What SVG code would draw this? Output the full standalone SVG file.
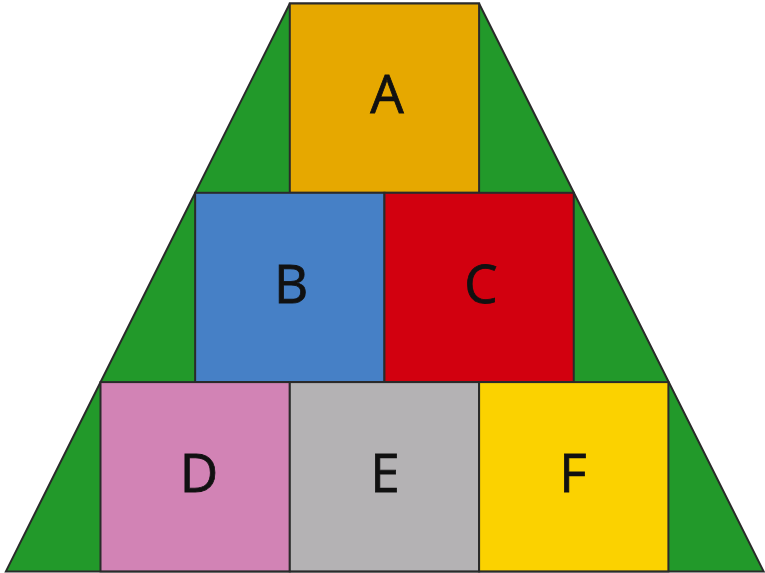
<svg xmlns="http://www.w3.org/2000/svg" width="765" height="573" viewBox="0 0 765 573">
<style>
.sq{stroke:#2a2a2a;stroke-width:2}
.lbl{font-family:"Open Sans","Liberation Sans",Arial,sans-serif;font-size:53px;fill:#111;text-anchor:middle;stroke:#111;stroke-width:0.8}
</style>
<rect width="765" height="573" fill="#ffffff"/>
<g id="background">
<polygon points="289.8,3.5 479.1,3.5 763.6,571.4 5.9,571.4" fill="#22992a" stroke="#2a2a2a" stroke-width="2" stroke-linejoin="miter"/>
</g>
<g id="nodeA"><rect class="sq" x="289.8" y="3.5" width="189.3" height="189.3" fill="#e6a800"/><text class="lbl" x="387" y="113">A</text></g>
<g id="nodeB"><rect class="sq" x="195.15" y="192.8" width="189.3" height="189.3" fill="#4680c6"/><text class="lbl" x="291" y="303">B</text></g>
<g id="nodeC"><rect class="sq" x="384.45" y="192.8" width="189.3" height="189.3" fill="#d2000f"/><text class="lbl" x="481" y="303">C</text></g>
<g id="nodeD"><rect class="sq" x="100.5" y="382.1" width="189.3" height="189.3" fill="#d283b5"/><text class="lbl" x="199" y="492">D</text></g>
<g id="nodeE"><rect class="sq" x="289.8" y="382.1" width="189.3" height="189.3" fill="#b4b2b4"/><text class="lbl" x="385" y="492">E</text></g>
<g id="nodeF"><rect class="sq" x="479.1" y="382.1" width="189.3" height="189.3" fill="#fbd200"/><text class="lbl" x="573" y="492">F</text></g>
<g id="connectors"></g>
</svg>
